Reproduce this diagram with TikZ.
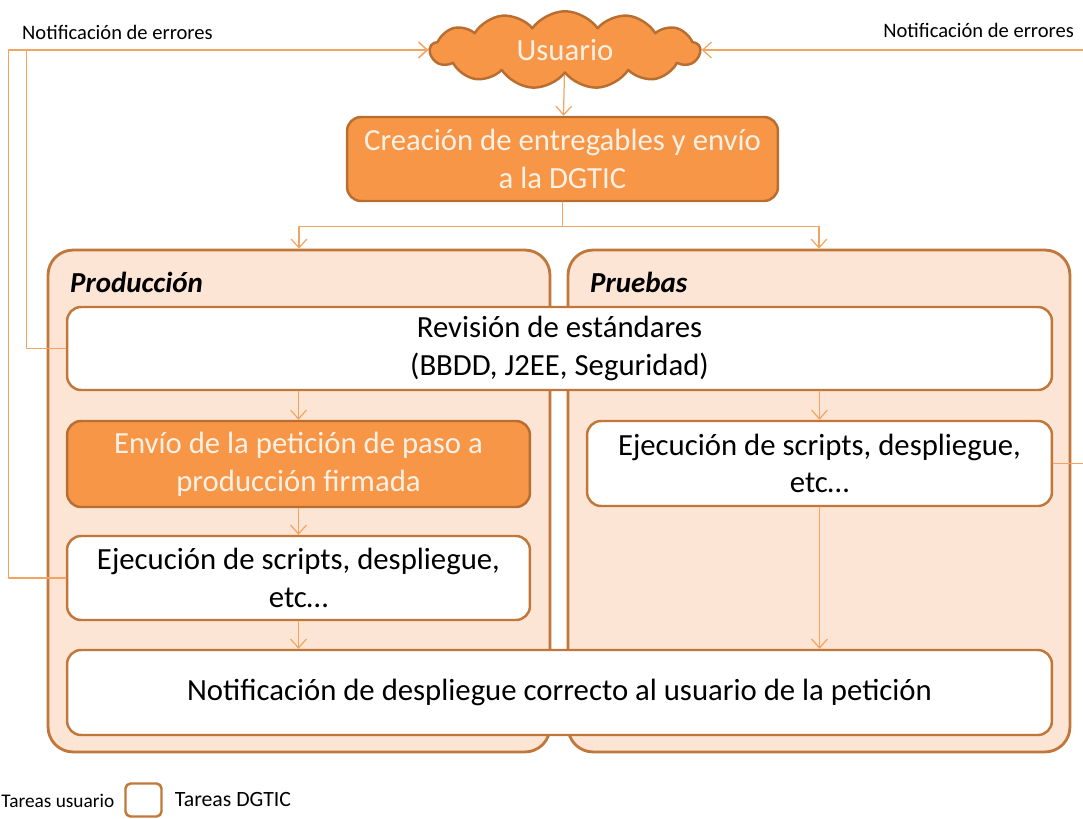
\documentclass[tikz,border=0pt]{standalone}
\usepackage{fontspec}
\setmainfont{Carlito}
\usetikzlibrary{arrows.meta, positioning, shapes.symbols}
\definecolor{uorange}{HTML}{F79646}
\definecolor{uedge}{HTML}{B86E30}
\definecolor{lanefill}{HTML}{FCE5D5}
\definecolor{laneedge}{HTML}{C07739}
\definecolor{flowline}{HTML}{F4A461}
\definecolor{cream}{HTML}{FDF1E6}
\tikzset{
  >={Straight Barb[length=5pt, width=9pt]},
  every picture/.style={line cap=round, line join=round},
  body/.style={font=\fontsize{17.5}{21.5}\selectfont},
  % lanes Produccion / Pruebas
  lane/.style={draw=laneedge, fill=lanefill, line width=1.6pt, rounded corners=0.5cm,
    minimum width=10.04cm, minimum height=10.04cm},
  lanetitle/.style={anchor=west, font=\fontsize{16.5}{19}\selectfont\bfseries\itshape},
  % tasks of the user (orange) and of the DGTIC (white)
  userbox/.style={body, draw=uedge, fill=uorange, text=cream, line width=1.4pt,
    rounded corners=0.28cm, align=center, inner sep=0pt},
  dgticbox/.style={body, draw=laneedge, fill=white, line width=1.4pt,
    rounded corners=0.28cm, align=center, inner sep=0pt},
  flow/.style={->, flowline, line width=0.7pt},
  errlabel/.style={font=\fontsize{11.7}{14}\selectfont},
  leglabel/.style={font=\fontsize{12.4}{15}\selectfont},
}
\begin{document}
\begin{tikzpicture}[x=0.02cm, y=-0.02cm]
  \useasboundingbox (0,0) rectangle (1083,819);
  % lanes
  \node[lane] (prod) at (299,501) {};
  \node[lane] (prueb) at (819,501) {};
  \node[lanetitle] (prodt) at (64,282) {Producción};
  \node[lanetitle] (pruebt) at (584,282) {Pruebas};
  % user
  \node[cloud, cloud puffs=13, cloud puff arc=110, aspect=3.4, draw=uedge, fill=uorange,
    line width=1.4pt, text=cream, body, minimum width=5.4cm, minimum height=1.55cm,
    inner sep=0pt] (user) at (565,50) {Usuario};
  \node[userbox, minimum width=8.62cm, minimum height=1.68cm] (crea) at (562.5,159)
    {Creación de entregables y envío\\ a la DGTIC};
  % tasks
  \node[dgticbox, minimum width=19.7cm, minimum height=1.66cm] (rev) at (559.5,348.5)
    {Revisión de estándares\\ (BBDD, J2EE, Seguridad)};
  \node[userbox, minimum width=9.26cm, minimum height=1.72cm] (envio) at (298.5,464)
    {Envío de la petición de paso a\\ producción firmada};
  \node[dgticbox, minimum width=9.26cm, minimum height=1.68cm] (ejecP) at (298.5,578)
    {Ejecución de scripts, despliegue,\\ etc\ldots};
  \node[dgticbox, minimum width=9.3cm, minimum height=1.7cm] (ejecT) at (819.5,463.5)
    {Ejecución de scripts, despliegue,\\ etc\ldots};
  \node[dgticbox, minimum width=19.7cm, minimum height=1.7cm] (notif) at (559.5,692.5)
    {Notificación de despliegue correcto al usuario de la petición};
  % flow
  \draw[flow] (user) -- (crea);
  \draw[flow] (crea.south) -- ++(0,24) -| (prod.north);
  \draw[flow] (crea.south) -- ++(0,24) -| (prueb.north);
  \draw[flow] (rev.south -| envio.north) -- (envio.north);
  \draw[flow] (rev.south -| ejecT.north) -- (ejecT.north);
  \draw[flow] (envio) -- (ejecP);
  \draw[flow] (ejecP.south) -- (notif.north -| ejecP.south);
  \draw[flow] (ejecT.south) -- (notif.north -| ejecT.south);
  % error notifications back to the user
  \draw[flow] (ejecP.west) -- ++(-57,0) |- (user.west);
  \draw[flow] (rev.west) -- ++(-39,0) |- (user.west);
  \draw[flow] (ejecT.east) -- ++(45,0) |- (user.east);
  \node[errlabel, anchor=west] (errL) at (16,32) {Notificación de errores};
  \node[errlabel, anchor=east] (errR) at (1080,30) {Notificación de errores};
  % legend
  \node[font=\fontsize{11}{13}\selectfont, anchor=west, inner xsep=0pt] (legU) at (1,801) {Tareas usuario};
  \node[draw=laneedge, fill=white, line width=1.4pt, rounded corners=0.1cm,
    minimum width=0.72cm, minimum height=0.66cm] (legbox) at (143.5,800) {};
  \node[leglabel, right=0.12cm of legbox] (legD) {Tareas DGTIC};
\end{tikzpicture}
\end{document}
